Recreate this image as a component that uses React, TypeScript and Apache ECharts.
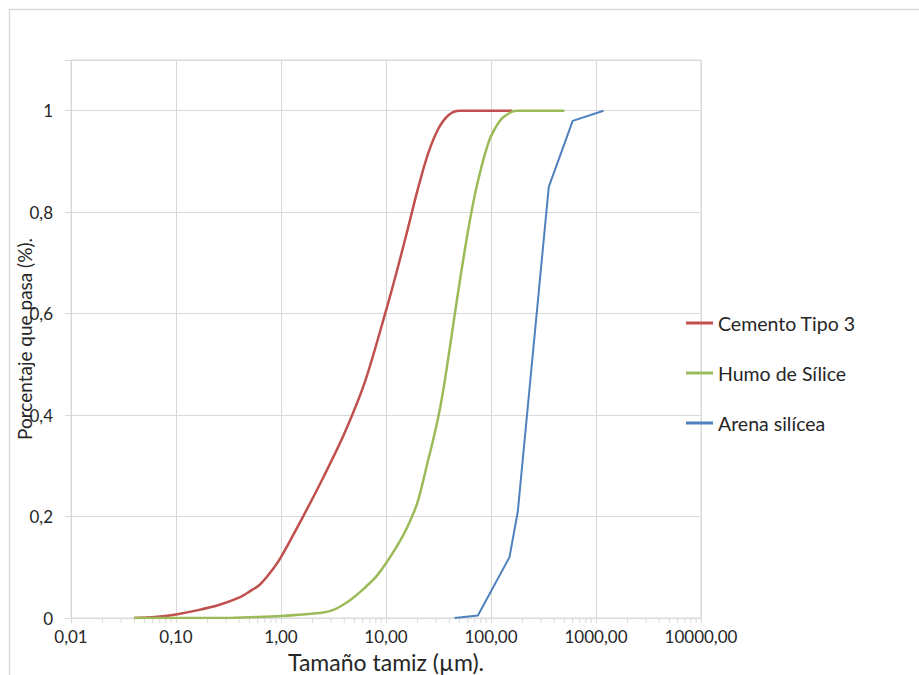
import React, { useEffect, useRef } from "react";
import * as echarts from "echarts";

const cementoSize = [0.04, 0.063, 0.079, 0.1, 0.158, 0.251, 0.398, 0.5, 0.631, 0.794, 1.0, 1.585, 2.512, 3.981, 6.31, 10.0, 12.59, 15.85, 19.95, 25.12, 31.62, 39.81, 50.12, 100, 160];
const cementoPass = [0, 0.002, 0.004, 0.007, 0.015, 0.025, 0.04, 0.052, 0.066, 0.09, 0.12, 0.196, 0.276, 0.362, 0.466, 0.606, 0.681, 0.761, 0.843, 0.915, 0.965, 0.992, 1, 1, 1];

const humoSize = [0.04, 0.3, 0.6, 1.0, 1.585, 2.512, 3.162, 3.981, 5.012, 6.31, 7.943, 10.0, 12.59, 15.85, 19.95, 25.12, 28.18, 31.62, 35.48, 39.81, 44.67, 50.12, 56.23, 63.1, 70.79, 79.43, 89.13, 100, 125.9, 158.5, 178, 300, 500];
const humoPass = [0, 0, 0.002, 0.004, 0.007, 0.011, 0.016, 0.027, 0.042, 0.06, 0.08, 0.108, 0.14, 0.178, 0.228, 0.31, 0.352, 0.398, 0.455, 0.522, 0.592, 0.66, 0.725, 0.785, 0.838, 0.882, 0.92, 0.95, 0.984, 0.998, 1, 1, 1];

const arenaSize = [45, 75, 150, 180, 355, 600, 1180];
const arenaPass = [0, 0.005, 0.12, 0.21, 0.85, 0.98, 1.0];

const xTickValues = [0.01, 0.1, 1, 10, 100, 1000, 10000];
const minorMultipliers = [2, 3, 4, 5, 6, 7, 8, 9];

const seriesNames = ["Cemento Tipo 3", "Humo de Sílice", "Arena silícea"];
const seriesColors = ["#C0504D", "#9BBB59", "#4F81BD"];

const FONT = "Lato, 'Open Sans', sans-serif";
const TEXT = "#262626";
const GRID = "#d9d9d9";

function pairs(xs: number[], ys: number[]) {
  return xs.map((x, i) => [x, ys[i]]);
}

export default function App() {
  const ref = useRef<HTMLDivElement>(null);
  useEffect(() => {
    if (!ref.current) return;
    const chart = echarts.init(ref.current, undefined, { renderer: "svg" });
    const minorTicks: number[][] = [];
    for (let d = 0; d < xTickValues.length - 1; d++) {
      for (const m of minorMultipliers) minorTicks.push([xTickValues[d] * m, 0]);
    }
    const fmtX = (v: number) => {
      const near = xTickValues.find((t) => Math.abs(t - v) / t < 1e-6);
      const val = near !== undefined ? near : v;
      return val.toFixed(2).replace(".", ",");
    };
    const fmtY = (v: number) => {
      if (v > 1.05) return "";
      if (Math.abs(v) < 1e-9) return "0";
      if (Math.abs(v - 1) < 1e-9) return "1";
      return v.toFixed(1).replace(".", ",");
    };
    const lineSeries = [
      { size: cementoSize, pass: cementoPass, width: 2.5, smooth: 0.3 },
      { size: humoSize, pass: humoPass, width: 2.5, smooth: 0.3 },
      { size: arenaSize, pass: arenaPass, width: 2, smooth: 0 },
    ].map((s, i) => ({
      name: seriesNames[i],
      type: "line",
      data: pairs(s.size, s.pass),
      showSymbol: false,
      symbol: "none",
      smooth: s.smooth,
      lineStyle: { color: seriesColors[i], width: s.width },
      itemStyle: { color: seriesColors[i] },
      z: 3,
    }));
    chart.setOption({
      animation: false,
      backgroundColor: "#ffffff",
      textStyle: { fontFamily: FONT },
      grid: {
        left: 71,
        top: 60,
        width: 630,
        height: 558,
        show: true,
        borderColor: GRID,
        borderWidth: 1,
        containLabel: false,
        outerBoundsMode: "none",
      },
      graphic: [
        {
          type: "rect",
          shape: { x: 9.5, y: 9.5, width: 930, height: 700 },
          style: { fill: "none", stroke: GRID, lineWidth: 1.5 },
          silent: true,
          z: -10,
        },
      ],
      legend: {
        orient: "vertical",
        left: 686,
        top: 313,
        padding: 0,
        itemWidth: 27,
        itemHeight: 3,
        itemGap: 30,
        icon: "rect",
        data: seriesNames,
        textStyle: { fontFamily: FONT, fontSize: 19.5, color: TEXT, lineHeight: 20 },
      },
      xAxis: {
        type: "log",
        logBase: 10,
        min: 0.01,
        max: 10000,
        name: "Tamaño tamiz (µm).",
        nameLocation: "middle",
        nameGap: 32,
        nameTextStyle: { fontFamily: FONT, fontSize: 23, color: TEXT },
        axisLine: { show: true, lineStyle: { color: GRID, width: 1 } },
        axisTick: { show: true, length: 5, lineStyle: { color: GRID } },
        splitLine: { show: true, lineStyle: { color: GRID, width: 1 } },
        axisLabel: { formatter: fmtX, fontFamily: FONT, fontSize: 17, color: TEXT, margin: 10 },
      },
      yAxis: {
        type: "value",
        min: 0,
        max: 1.1,
        interval: 0.2,
        name: "Porcentaje que pasa (%).",
        nameLocation: "middle",
        nameGap: 37,
        nameMoveOverlap: false,
        nameTextStyle: { fontFamily: FONT, fontSize: 19, color: TEXT },
        axisLine: { show: false },
        axisTick: { show: true, length: 6, lineStyle: { color: GRID } },
        splitLine: { show: true, lineStyle: { color: GRID, width: 1 } },
        axisLabel: { formatter: fmtY, fontFamily: FONT, fontSize: 17, color: TEXT, margin: 18 },
      },
      series: [
        {
          name: "minorTicks",
          type: "custom",
          data: minorTicks,
          clip: false,
          silent: true,
          z: 1,
          renderItem: (params: any, api: any) => {
            const p = api.coord([api.value(0), api.value(1)]);
            return {
              type: "line",
              shape: { x1: p[0], y1: p[1], x2: p[0], y2: p[1] + 5 },
              style: { stroke: GRID, lineWidth: 1 },
            };
          },
        },
        ...lineSeries,
      ],
    });
    return () => chart.dispose();
  }, []);
  return (
    <div
      ref={ref}
      style={{ position: "absolute", left: 0, top: 0, width: 919, height: 675 }}
    />
  );
}
